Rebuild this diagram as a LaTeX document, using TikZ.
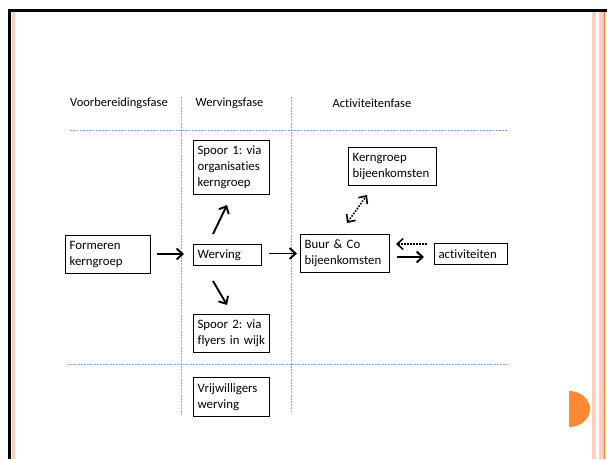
\documentclass[tikz,border=0pt]{standalone}
\usepackage{fontspec}
\setmainfont[Ligatures=NoCommon]{Carlito}
\usetikzlibrary{arrows.meta}
\definecolor{dashblue}{RGB}{130,166,212}
\definecolor{pinkstripe}{RGB}{253,206,192}
\definecolor{orangeline}{RGB}{255,128,40}
\definecolor{orangedot}{RGB}{255,136,51}
\frenchspacing
\tikzset{
  box/.style={draw, line width=1.2pt, inner xsep=4pt, inner ysep=0pt, align=left,
    anchor=north west, font=\fontsize{12.8}{16}\selectfont},
  hdr/.style={font=\fontsize{12.5}{15}\selectfont, inner sep=0pt},
  phase/.style={dashblue, line width=0.9pt, dash pattern=on 2pt off 1.2pt},
  arr/.style={line width=1.9pt, -{Straight Barb[length=6pt,width=11pt]}},
  darr/.style={line width=1.6pt, dash pattern=on 1.6pt off 1.4pt, -{Straight Barb[length=6pt,width=11pt]}},
  dbarr/.style={line width=1.6pt, dash pattern=on 1.6pt off 1.4pt, {Straight Barb[length=6pt,width=11pt]}-{Straight Barb[length=6pt,width=11pt]}}
}
\begin{document}
\begin{tikzpicture}[x=1pt,y=-1pt]
\useasboundingbox (0,0) rectangle (607,459);
% slide frame
\fill[black] (8,9) rectangle (607,11.5);
\fill[black] (8,9) rectangle (10.5,459);
\fill[pinkstripe] (12,11.5) rectangle (15,459);
\fill[pinkstripe] (592,11.5) rectangle (596,459);
\fill[pinkstripe] (599,11.5) rectangle (604,459);
\fill[orangeline] (604,11.5) rectangle (605.3,459);
\fill[orangedot] (569,391) arc[start angle=-90, end angle=90, x radius=21, y radius=18] -- cycle;
% phase grid
\draw[phase] (181,97) -- (181,415);
\draw[phase] (291.5,97) -- (291.5,412);
\draw[phase] (70,130) -- (508,130);
\draw[phase] (68,364.5) -- (507,364.5);
% headers
\node[hdr] (h1) at (119,103) {Voorbereidingsfase};
\node[hdr] (h2) at (229.5,103) {Wervingsfase};
\node[hdr] (h3) at (372,103) {Activiteitenfase};
% boxes
\node[box, text width=77pt, minimum height=38pt] (form) at (65,235) {Formeren\\kerngroep};
\node[box, text width=60pt, minimum height=21pt] (werv) at (193,244) {Werving};
\node[box, text width=68pt, minimum height=54pt] (sp1) at (193,140) {Spoor 1: via\\organisaties\\kerngroep};
\node[box, text width=68pt, minimum height=38pt] (sp2) at (193,314) {Spoor 2: via\\flyers in wijk};
\node[box, text width=68pt, minimum height=39pt] (vrij) at (193,377) {Vrijwilligers\\werving};
\node[box, text width=80pt, minimum height=38pt] (kern) at (348,147) {Kerngroep\\bijeenkomsten};
\node[box, text width=81pt, minimum height=38pt] (buur) at (300,234) {Buur \& Co\\bijeenkomsten};
\node[box, text width=65pt, minimum height=21pt] (act) at (434,243) {activiteiten};
% arrow end points
\coordinate (a1s) at (157,254);
\coordinate (a1e) at (184,254);
\coordinate (a2s) at (269,253.5);
\coordinate (a2e) at (297,253.5);
\coordinate (a3s) at (213,234);
\coordinate (a3e) at (227,205);
\coordinate (a4s) at (213,281);
\coordinate (a4e) at (227,305);
\coordinate (a5s) at (347,223);
\coordinate (a5e) at (367,195);
\coordinate (a6s) at (427,244);
\coordinate (a6e) at (396,244);
\coordinate (a7s) at (397,257);
\coordinate (a7e) at (424,257);
% connectors
\draw[arr] (a1s) -- (a1e);
\draw[arr] (a2s) -- (a2e);
\draw[arr] (a3s) -- (a3e);
\draw[arr] (a4s) -- (a4e);
\draw[dbarr] (a5s) -- (a5e);
\draw[darr] (a6s) -- (a6e);
\draw[arr] (a7s) -- (a7e);
\end{tikzpicture}
\end{document}
